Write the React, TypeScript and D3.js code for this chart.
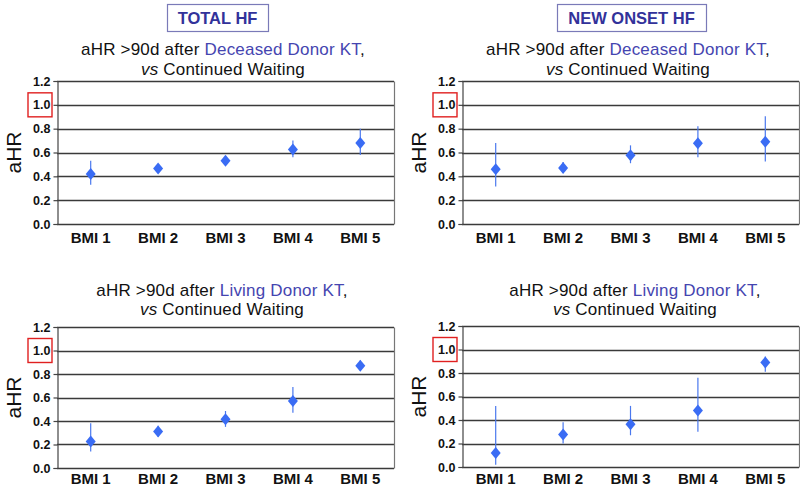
import React, { useRef, useEffect } from 'react';
import * as d3 from "d3";

const categories = ["BMI 1", "BMI 2", "BMI 3", "BMI 4", "BMI 5"];
const yTicks = [0, 0.2, 0.4, 0.6, 0.8, 1.0, 1.2];

// Total HF, deceased donor
const totalDeceasedEst = [0.42, 0.465, 0.53, 0.625, 0.68];
const totalDeceasedLo = [0.33, 0.44, 0.5, 0.56, 0.58];
const totalDeceasedHi = [0.53, 0.49, 0.56, 0.7, 0.8];

// New onset HF, deceased donor
const newDeceasedEst = [0.46, 0.47, 0.576, 0.677, 0.69];
const newDeceasedLo = [0.315, 0.43, 0.51, 0.56, 0.525];
const newDeceasedHi = [0.68, 0.52, 0.66, 0.82, 0.905];

// Total HF, living donor
const totalLivingEst = [0.226, 0.31, 0.415, 0.57, 0.87];
const totalLivingLo = [0.14, 0.265, 0.35, 0.47, 0.83];
const totalLivingHi = [0.38, 0.36, 0.485, 0.69, 0.915];

// New onset HF, living donor
const newLivingEst = [0.12, 0.277, 0.364, 0.48, 0.89];
const newLivingLo = [0.02, 0.2, 0.27, 0.3, 0.81];
const newLivingHi = [0.52, 0.38, 0.52, 0.76, 0.94];

const headers = ["TOTAL HF", "NEW ONSET HF"];

const FONT = "'Liberation Sans', Arial, Helvetica, sans-serif";

const panels = [
  { donor: "Deceased Donor KT", est: totalDeceasedEst, lo: totalDeceasedLo, hi: totalDeceasedHi,
    x0: 57, x1: 394, yTop: 81, yBot: 224, titleX: 223, t1: 55, t2: 75 },
  { donor: "Deceased Donor KT", est: newDeceasedEst, lo: newDeceasedLo, hi: newDeceasedHi,
    x0: 462, x1: 799, yTop: 81, yBot: 224, titleX: 628, t1: 55, t2: 75 },
  { donor: "Living Donor KT", est: totalLivingEst, lo: totalLivingLo, hi: totalLivingHi,
    x0: 57, x1: 394, yTop: 327, yBot: 468, titleX: 222, t1: 296, t2: 315 },
  { donor: "Living Donor KT", est: newLivingEst, lo: newLivingLo, hi: newLivingHi,
    x0: 462, x1: 799, yTop: 326, yBot: 467, titleX: 635, t1: 296, t2: 315 },
];

const headerBoxes = [
  { x: 167, w: 101, cx: 217.5 },
  { x: 557, w: 149, cx: 631.5 },
];

const App = () => {
  const svgRef = useRef<SVGSVGElement>(null);

  useEffect(() => {
    const svg = d3.select(svgRef.current);
    svg.selectAll("*").remove();

    // header boxes
    headers.forEach((h, i) => {
      const b = headerBoxes[i];
      svg.append("rect")
        .attr("x", b.x + 0.5).attr("y", 4.5)
        .attr("width", b.w).attr("height", 27)
        .attr("fill", "none")
        .attr("stroke", "#7a7ab8")
        .attr("stroke-width", 1.2);
      svg.append("text")
        .attr("x", b.cx).attr("y", 23.5)
        .attr("text-anchor", "middle")
        .style("font-family", FONT)
        .style("font-weight", "bold")
        .style("font-size", "16.5px")
        .style("fill", "#32329a")
        .text(h);
    });

    panels.forEach(p => {
      const g = svg.append("g");

      const x = d3.scaleBand()
        .domain(categories)
        .range([p.x0, p.x1])
        .padding(0);

      const y = d3.scaleLinear()
        .domain([0, 1.2])
        .range([p.yBot, p.yTop]);

      // titles
      const t1 = g.append("text")
        .attr("x", p.titleX).attr("y", p.t1)
        .attr("text-anchor", "middle")
        .style("font-family", FONT)
        .style("font-size", "17px")
        .style("letter-spacing", "0.2px")
        .style("fill", "#111");
      t1.append("tspan").text("aHR >90d after ");
      t1.append("tspan").style("fill", "#4545b0").text(p.donor);
      t1.append("tspan").text(",");

      const t2 = g.append("text")
        .attr("x", p.titleX).attr("y", p.t2)
        .attr("text-anchor", "middle")
        .style("font-family", FONT)
        .style("font-size", "17px")
        .style("letter-spacing", "0.2px")
        .style("fill", "#111");
      t2.append("tspan").style("font-style", "italic").text("vs");
      t2.append("tspan").text(" Continued Waiting");

      // gridlines
      g.selectAll("line.grid")
        .data(yTicks)
        .join("line")
        .attr("class", "grid")
        .attr("x1", p.x0).attr("x2", p.x1)
        .attr("y1", d => Math.round(y(d)) + 0.5)
        .attr("y2", d => Math.round(y(d)) + 0.5)
        .attr("stroke", "#3a3a3a")
        .attr("stroke-width", 1.3);

      // right border
      g.append("line")
        .attr("x1", p.x1 + 0.5).attr("x2", p.x1 + 0.5)
        .attr("y1", Math.round(y(1.2)) + 0.5).attr("y2", Math.round(y(0)) + 0.5)
        .attr("stroke", "#777")
        .attr("stroke-width", 1.2);

      // y axis
      const yAxis = d3.axisLeft(y)
        .tickValues(yTicks)
        .tickSize(4)
        .tickPadding(3)
        .tickFormat(d3.format(".1f"));

      const ya = g.append("g")
        .attr("transform", `translate(${p.x0 + 0.5},0)`)
        .call(yAxis);
      ya.select(".domain").attr("stroke", "#444").attr("stroke-width", 1.2);
      ya.selectAll(".tick line").attr("stroke", "#444").attr("stroke-width", 1.2);
      ya.selectAll("text")
        .style("font-family", FONT)
        .style("font-weight", "bold")
        .style("font-size", "12.5px")
        .style("fill", "#111");

      // red highlight around 1.0
      g.append("rect")
        .attr("x", p.x0 - 29).attr("y", y(1.0) - 12)
        .attr("width", 24).attr("height", 24)
        .attr("fill", "none")
        .attr("stroke", "#e02020")
        .attr("stroke-width", 1.4);

      // y label
      g.append("text")
        .attr("transform", `translate(${p.x0 - 36},${(p.yTop + p.yBot) / 2}) rotate(-90)`)
        .attr("text-anchor", "middle")
        .style("font-family", FONT)
        .style("font-size", "21px")
        .style("fill", "#111")
        .text("aHR");

      // x labels
      g.selectAll("text.xlab")
        .data(categories)
        .join("text")
        .attr("class", "xlab")
        .attr("x", d => x(d)! + x.bandwidth() / 2)
        .attr("y", Math.min(p.yBot + 19, 484))
        .attr("text-anchor", "middle")
        .style("font-family", FONT)
        .style("font-weight", "bold")
        .style("font-size", "15px")
        .style("fill", "#111")
        .text(d => d);

      // CI lines
      g.selectAll("line.ci")
        .data(categories)
        .join("line")
        .attr("class", "ci")
        .attr("x1", d => x(d)! + x.bandwidth() / 2)
        .attr("x2", d => x(d)! + x.bandwidth() / 2)
        .attr("y1", (d, i) => y(p.lo[i]))
        .attr("y2", (d, i) => y(p.hi[i]))
        .attr("stroke", "#4a78ee")
        .attr("stroke-width", 1.2);

      // diamonds
      const diamond = (cx: number, cy: number) =>
        `M${cx},${cy - 6}L${cx + 5},${cy}L${cx},${cy + 6}L${cx - 5},${cy}Z`;

      g.selectAll("path.pt")
        .data(categories)
        .join("path")
        .attr("class", "pt")
        .attr("d", (d, i) => diamond(x(d)! + x.bandwidth() / 2, y(p.est[i])))
        .attr("fill", "#3a6cf4");
    });
  }, []);

  return (
    <div style={{ position: "absolute", left: 0, top: 0 }}>
      <svg ref={svgRef} width={800} height={488} style={{ display: "block", background: "#fff" }} />
    </div>
  );
};

export default App;
